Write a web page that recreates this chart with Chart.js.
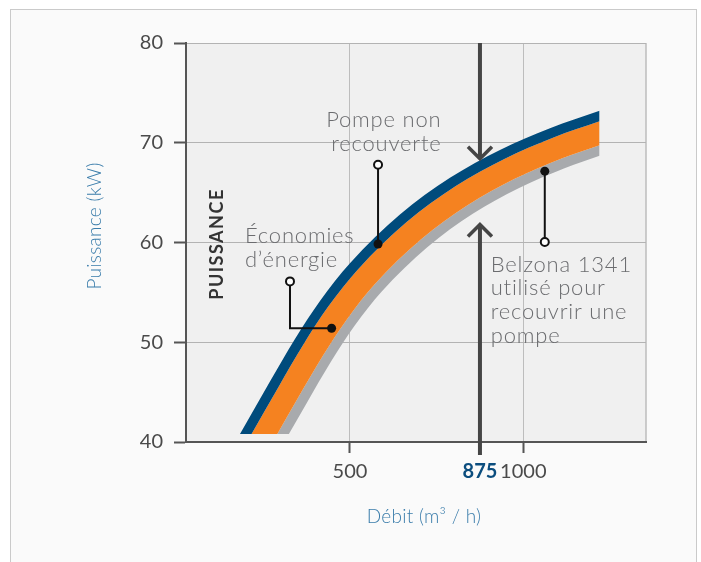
<!DOCTYPE html>
<html>
<head>
<meta charset="utf-8">
<script src="https://cdn.jsdelivr.net/npm/chart.js@4.4.1/dist/chart.umd.min.js"></script>
<style>
  html, body { margin: 0; padding: 0; background: #fff; }
  body { position: relative; width: 701px; height: 562px; overflow: hidden; }
  #frame { position: absolute; left: 10px; top: 9px; width: 685px; height: 600px; border: 1px solid #cacaca; background: #fafafa; }
  #chart { position: absolute; left: 0; top: 0; }
</style>
</head>
<body>
<div id="frame"></div>
<canvas id="chart" width="701" height="562"></canvas>
<script>
const FONT = "Lato, 'Noto Sans', sans-serif";

// axes
const xTicks = [500, 875, 1000];
const yTicks = [40, 50, 60, 70, 80];
const markedFlow = 875;
const xTitle = "Débit (m³ / h)";
const yTitle = "Puissance (kW)";

// band edges, from top to bottom (x = débit m3/h, y = puissance kW)
// first point of each edge sits below the axis so the bands get a flat cut
const blueTopX = [67.3, 182.7, 269.2, 341.3, 413.5, 500, 644.2, 788.5, 932.7, 1077, 1220];
const blueTopY = [33.78, 40.8, 46.06, 50.32, 54.14, 57.91, 62.8, 66.48, 69.28, 71.46, 73.21];
const orangeTopX = [67.3, 207.8, 294.3, 366.1, 436.8, 521.6, 662.7, 804.1, 945.4, 1087.3, 1220];
const orangeTopY = [31.76, 40.3, 45.55, 49.8, 53.55, 57.25, 62.02, 65.63, 68.38, 70.53, 72.15];
const greyTopX = [67.3, 264, 350.3, 421.8, 489.9, 570.1, 704.5, 839, 973.8, 1110.6, 1220];
const greyTopY = [27.22, 39.19, 44.43, 48.64, 52.24, 55.76, 60.3, 63.73, 66.36, 68.42, 69.76];
const greyBottomX = [67.3, 289.1, 375.4, 446.3, 513.3, 591.7, 723, 854.3, 986.4, 1120.8, 1220];
const greyBottomY = [25.19, 38.69, 43.92, 48.12, 51.66, 55.09, 59.53, 62.89, 65.45, 67.48, 68.7];
const bandFloor = 40.8;

// arrows on the 875 line (tips, in kW)
const arrowTips = [68.2, 62.0];

// callouts: first point = open circle, last point = dot
const savingsCallout = [[327, 56.1], [327, 51.4], [447, 51.4]];
const uncoatedCallout = [[581, 67.8], [581, 59.85]];
const coatedCallout = [[1062, 60.05], [1062, 67.15]];

const notes = [
  { lines: ["Économies", "d’énergie"], x: 197, y: 59.95, align: "left" },
  { lines: ["Pompe non", "recouverte"], x: 764, y: 71.55, align: "right" },
  { lines: ["Belzona 1341", "utilisé pour", "recouvrir une", "pompe"], x: 906, y: 57.07, align: "left" },
];
const sideLabel = { text: "PUISSANCE", x: 116, y: 59.85 };

const toPoints = (xs, ys) => xs.map((x, i) => ({ x, y: ys[i] }));

const plotBackground = {
  id: "plotBackground",
  beforeDraw(chart) {
    const { ctx, chartArea: a } = chart;
    ctx.save();
    ctx.fillStyle = "#f0f0f0";
    ctx.fillRect(a.left, a.top, a.width, a.height);
    ctx.strokeStyle = "#bdbdbd";
    ctx.lineWidth = 1.5;
    ctx.beginPath();
    ctx.moveTo(a.right, a.top);
    ctx.lineTo(a.right, a.bottom);
    ctx.stroke();
    ctx.restore();
  },
};

// the bands stop flat just above the x axis
const bandClip = {
  id: "bandClip",
  beforeDatasetsDraw(chart) {
    const { ctx, chartArea: a, scales } = chart;
    ctx.save();
    ctx.beginPath();
    ctx.rect(a.left, a.top, a.width, scales.y.getPixelForValue(bandFloor) - a.top);
    ctx.clip();
  },
  afterDatasetsDraw(chart) {
    chart.ctx.restore();
  },
};

const decorations = {
  id: "decorations",
  afterDraw(chart) {
    const { ctx, chartArea: a, scales: { x, y } } = chart;
    const px = (v) => x.getPixelForValue(v);
    const py = (v) => y.getPixelForValue(v);
    ctx.save();

    // 875 marker line with arrows
    const lx = px(markedFlow);
    const tipDown = py(arrowTips[0]);
    const tipUp = py(arrowTips[1]);
    ctx.strokeStyle = "#454545";
    ctx.lineWidth = 4;
    ctx.beginPath();
    ctx.moveTo(lx, a.top);
    ctx.lineTo(lx, tipDown - 2);
    ctx.moveTo(lx, tipUp + 2);
    ctx.lineTo(lx, a.bottom + 13);
    ctx.stroke();
    ctx.lineWidth = 3.5;
    ctx.lineJoin = "miter";
    ctx.beginPath();
    ctx.moveTo(lx - 12, tipDown - 14);
    ctx.lineTo(lx, tipDown - 2);
    ctx.lineTo(lx + 12, tipDown - 14);
    ctx.moveTo(lx - 12, tipUp + 14);
    ctx.lineTo(lx, tipUp + 2);
    ctx.lineTo(lx + 12, tipUp + 14);
    ctx.stroke();

    // callouts
    [savingsCallout, uncoatedCallout, coatedCallout].forEach((pts) => {
      ctx.strokeStyle = "#111";
      ctx.lineWidth = 2;
      ctx.beginPath();
      pts.forEach(([vx, vy], i) => (i ? ctx.lineTo(px(vx), py(vy)) : ctx.moveTo(px(vx), py(vy))));
      ctx.stroke();
      const [ox, oy] = pts[0];
      const [dx, dy] = pts[pts.length - 1];
      ctx.fillStyle = "#111";
      ctx.beginPath();
      ctx.arc(px(dx), py(dy), 4.5, 0, Math.PI * 2);
      ctx.fill();
      ctx.fillStyle = "#fff";
      ctx.beginPath();
      ctx.arc(px(ox), py(oy), 4, 0, Math.PI * 2);
      ctx.fill();
      ctx.stroke();
    });

    // notes
    ctx.fillStyle = "#6b6c6f";
    ctx.font = "300 22px " + FONT;
    ctx.letterSpacing = "0.8px";
    ctx.textBaseline = "alphabetic";
    notes.forEach((n) => {
      ctx.textAlign = n.align;
      n.lines.forEach((t, i) => ctx.fillText(t, px(n.x), py(n.y) + i * 23.7));
    });

    // axis titles (sit a little off-centre in the original)
    ctx.fillStyle = "#3b7dab";
    ctx.font = "300 19px " + FONT;
    ctx.letterSpacing = "0.3px";
    ctx.textAlign = "center";
    ctx.textBaseline = "middle";
    ctx.fillText(xTitle, a.left + 238, a.bottom + 75);
    ctx.save();
    ctx.translate(a.left - 91, a.top + 183);
    ctx.rotate(-Math.PI / 2);
    ctx.fillText(yTitle, 0, 0);
    ctx.restore();

    // vertical label
    ctx.translate(px(sideLabel.x), py(sideLabel.y));
    ctx.rotate(-Math.PI / 2);
    ctx.fillStyle = "#333";
    ctx.font = "bold 18px " + FONT;
    ctx.letterSpacing = "1.5px";
    ctx.fillText(sideLabel.text, 0, 0);
    ctx.restore();
  },
};

const isMarked = (c) => c.tick && c.tick.value === markedFlow;

new Chart(document.getElementById("chart"), {
  type: "line",
  data: {
    datasets: [
      { data: toPoints(blueTopX, blueTopY), backgroundColor: "#004b7c", fill: "+1" },
      { data: toPoints(orangeTopX, orangeTopY), backgroundColor: "#f58220", fill: "+1" },
      { data: toPoints(greyTopX, greyTopY), backgroundColor: "#a8aaad", fill: "+1" },
      { data: toPoints(greyBottomX, greyBottomY), fill: false },
    ],
  },
  options: {
    responsive: false,
    animation: false,
    devicePixelRatio: 1,
    layout: { padding: { left: 82, right: 55, top: 43, bottom: 31 } },
    elements: {
      point: { radius: 0 },
      line: { borderWidth: 0, borderColor: "rgba(0,0,0,0)", cubicInterpolationMode: "monotone" },
    },
    plugins: { legend: { display: false }, tooltip: { enabled: false } },
    scales: {
      x: {
        type: "linear",
        min: 27,
        max: 1354,
        afterBuildTicks: (axis) => { axis.ticks = xTicks.map((v) => ({ value: v })); },
        afterFit: (axis) => { axis.height = 89; },
        border: { color: "#555", width: 2 },
        grid: {
          color: (c) => (isMarked(c) ? "rgba(0,0,0,0)" : "#bdbdbd"),
          tickColor: (c) => (isMarked(c) ? "rgba(0,0,0,0)" : "#555"),
          tickLength: 11,
          tickWidth: 2,
        },
        ticks: {
          autoSkip: false,
          maxRotation: 0,
          padding: 7,
          color: (c) => (isMarked(c) ? "#0b4d7e" : "#4a4a4a"),
          font: (c) => ({ family: FONT, size: 20, weight: isMarked(c) ? "bold" : "normal" }),
          callback: (v) => String(v),
        },
      },
      y: {
        min: 40,
        max: 80,
        afterBuildTicks: (axis) => { axis.ticks = yTicks.map((v) => ({ value: v })); },
        afterFit: (axis) => { axis.width = 104; },
        border: { color: "#555", width: 2 },
        grid: { color: "#b3b3b3", tickColor: "#555", tickLength: 12, tickWidth: 2 },
        ticks: { padding: 11, color: "#4a4a4a", font: { family: FONT, size: 20 } },
      },
    },
  },
  plugins: [plotBackground, bandClip, decorations],
});
</script>
</body>
</html>
